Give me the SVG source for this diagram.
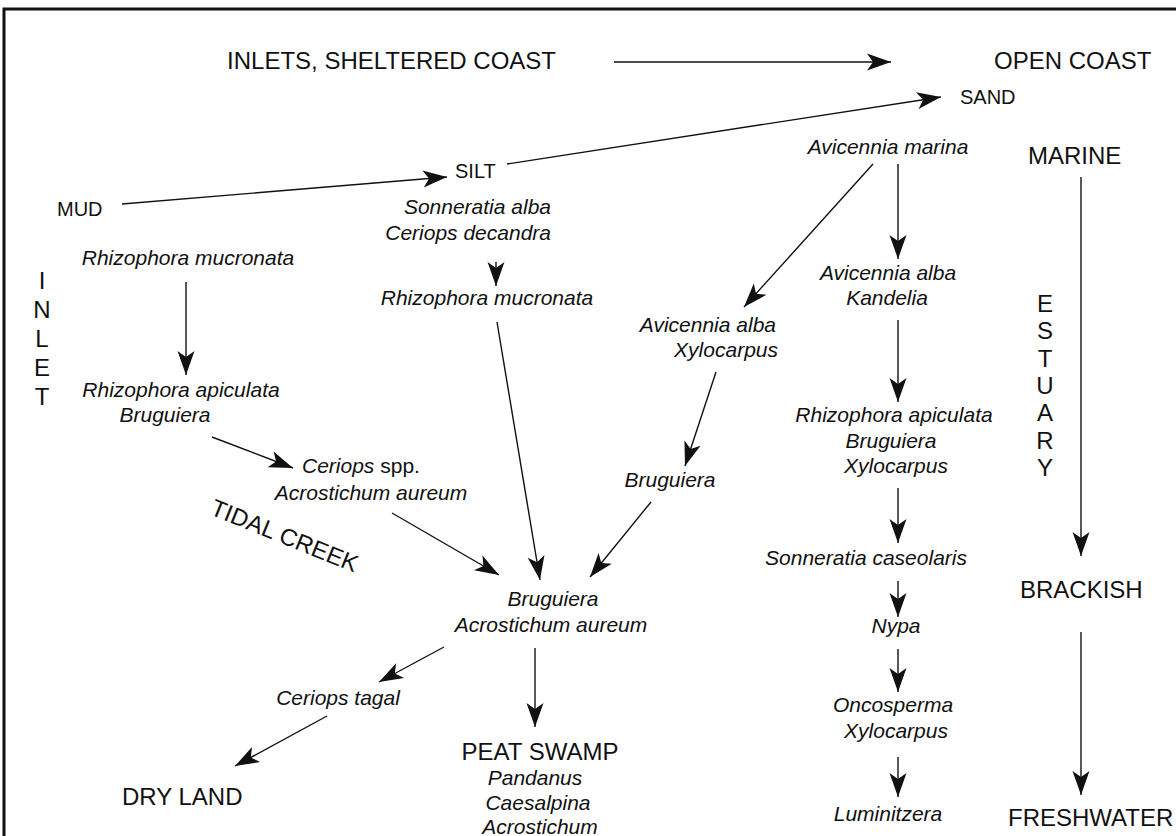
<svg xmlns="http://www.w3.org/2000/svg" width="1176" height="836" viewBox="0 0 1176 836">
<style>
.big{font-family:"Liberation Sans",Arial,sans-serif;font-size:24px;fill:#111}
.sm{font-family:"Liberation Sans",Arial,sans-serif;font-size:20px;fill:#111}
.sp{font-family:"Liberation Sans",Arial,sans-serif;font-size:21px;font-style:italic;fill:#111}
.rm{font-style:normal}
.c{text-anchor:middle}
.e{text-anchor:end}
.ln{stroke:#111;stroke-width:1.4;fill:none;marker-end:url(#ah)}
</style>
<defs>
<marker id="ah" markerUnits="userSpaceOnUse" markerWidth="26" markerHeight="18" refX="24" refY="8.5" orient="auto" overflow="visible">
<path d="M0,0 L24,8.5 L0,17 L6,8.5 Z" fill="#111"/>
</marker>
</defs>
<rect x="0" y="0" width="1176" height="836" fill="#fff"/>
<rect x="4" y="9" width="1180" height="840" fill="none" stroke="#111" stroke-width="3"/>

<g id="connectors">
<line class="ln" x1="614" y1="62" x2="891" y2="62"/>
<line class="ln" x1="507" y1="164" x2="941" y2="97"/>
<line class="ln" x1="122" y1="204" x2="447" y2="177"/>
<line class="ln" x1="496" y1="262" x2="496" y2="286"/>
<line class="ln" x1="186" y1="282" x2="186" y2="375"/>
<line class="ln" x1="212" y1="437" x2="293" y2="468"/>
<line class="ln" x1="392" y1="513" x2="499" y2="575"/>
<line class="ln" x1="497" y1="322" x2="540" y2="580"/>
<line class="ln" x1="873" y1="164" x2="744" y2="307"/>
<line class="ln" x1="898" y1="164" x2="898" y2="259"/>
<line class="ln" x1="716" y1="372" x2="685" y2="466"/>
<line class="ln" x1="651" y1="502" x2="590" y2="577"/>
<line class="ln" x1="898" y1="320" x2="898" y2="402"/>
<line class="ln" x1="898" y1="488" x2="898" y2="543"/>
<line class="ln" x1="898" y1="581" x2="898" y2="617"/>
<line class="ln" x1="898" y1="649" x2="898" y2="692"/>
<line class="ln" x1="898" y1="757" x2="898" y2="797"/>
<line class="ln" x1="1081" y1="177" x2="1081" y2="556"/>
<line class="ln" x1="1081" y1="632" x2="1081" y2="795"/>
<line class="ln" x1="444" y1="647" x2="379" y2="682"/>
<line class="ln" x1="327" y1="716" x2="235" y2="766"/>
<line class="ln" x1="535" y1="648" x2="535" y2="727"/>
</g>

<g id="inlets"><text class="big e" x="556" y="69">INLETS, SHELTERED COAST</text></g>
<g id="open-coast"><text class="big" x="994" y="69">OPEN COAST</text></g>
<g id="sand"><text class="sm" x="960" y="104">SAND</text></g>
<g id="silt"><text class="sm" x="455" y="178">SILT</text></g>
<g id="mud"><text class="sm" x="57" y="216">MUD</text></g>
<g id="avicennia-marina"><text class="sp c" x="888" y="154">Avicennia marina</text></g>
<g id="marine"><text class="big" x="1028" y="164">MARINE</text></g>
<g id="sonneratia-alba"><text class="sp e" x="551" y="214">Sonneratia alba</text><text class="sp e" x="551" y="240">Ceriops decandra</text></g>
<g id="rhizo-muc-mid"><text class="sp c" x="487" y="305">Rhizophora mucronata</text></g>
<g id="rhizo-muc-left"><text class="sp c" x="188" y="265">Rhizophora mucronata</text></g>
<g id="inlet"><text class="big c"><tspan x="42" y="289">I</tspan><tspan x="42" y="318">N</tspan><tspan x="42" y="347">L</tspan><tspan x="42" y="376">E</tspan><tspan x="42" y="405">T</tspan></text></g>
<g id="rhizo-api-left"><text class="sp c" x="181" y="397">Rhizophora apiculata</text><text class="sp c" x="165" y="422">Bruguiera</text></g>
<g id="ceriops-spp"><text class="sp" x="302" y="473">Ceriops<tspan class="rm"> spp.</tspan></text><text class="sp c" x="371" y="500">Acrostichum aureum</text></g>
<g id="tidal-creek"><text class="big" x="209" y="514" transform="rotate(22 209 514)">TIDAL CREEK</text></g>
<g id="avicennia-alba-left"><text class="sp e" x="776" y="332">Avicennia alba</text><text class="sp e" x="778" y="357">Xylocarpus</text></g>
<g id="bruguiera-mid"><text class="sp c" x="670" y="487">Bruguiera</text></g>
<g id="avicennia-alba-right"><text class="sp c" x="888" y="280">Avicennia alba</text><text class="sp c" x="887" y="305">Kandelia</text></g>
<g id="rhizo-api-right"><text class="sp c" x="894" y="422">Rhizophora apiculata</text><text class="sp c" x="891" y="448">Bruguiera</text><text class="sp c" x="896" y="473">Xylocarpus</text></g>
<g id="sonneratia-caseolaris"><text class="sp c" x="866" y="565">Sonneratia caseolaris</text></g>
<g id="nypa"><text class="sp c" x="896" y="633">Nypa</text></g>
<g id="oncosperma"><text class="sp c" x="893" y="712">Oncosperma</text><text class="sp c" x="896" y="738">Xylocarpus</text></g>
<g id="luminitzera"><text class="sp c" x="888" y="821">Luminitzera</text></g>
<g id="estuary"><text class="big c"><tspan x="1045" y="312">E</tspan><tspan x="1045" y="339">S</tspan><tspan x="1045" y="367">T</tspan><tspan x="1045" y="394">U</tspan><tspan x="1045" y="421">A</tspan><tspan x="1045" y="449">R</tspan><tspan x="1045" y="476">Y</tspan></text></g>
<g id="brackish"><text class="big" x="1020" y="598">BRACKISH</text></g>
<g id="freshwater"><text class="big" x="1008" y="826">FRESHWATER</text></g>
<g id="bruguiera-acrostichum"><text class="sp c" x="553" y="606">Bruguiera</text><text class="sp c" x="551" y="632">Acrostichum aureum</text></g>
<g id="ceriops-tagal"><text class="sp c" x="338" y="705">Ceriops tagal</text></g>
<g id="dry-land"><text class="big" x="122" y="805">DRY LAND</text></g>
<g id="peat-swamp"><text class="big c" x="540" y="760">PEAT SWAMP</text><text class="sp c" x="535" y="785">Pandanus</text><text class="sp c" x="538" y="810">Caesalpina</text><text class="sp c" x="540" y="834">Acrostichum</text></g>
</svg>
